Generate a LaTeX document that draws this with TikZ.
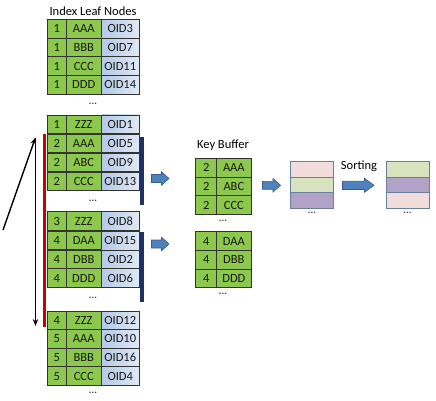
\documentclass[tikz,border=0pt]{standalone}
\usepackage{fontspec}
\setmainfont{Carlito}
\usetikzlibrary{arrows.meta}
\definecolor{cellgreen}{HTML}{8CC84B}
\definecolor{oidA}{HTML}{B4C8E6}
\definecolor{oidB}{HTML}{E0E9F5}
\definecolor{gridc}{HTML}{333333}
\definecolor{redbar}{HTML}{CC0000}
\definecolor{navybar}{HTML}{1F3064}
\definecolor{arrfill}{HTML}{4F81BD}
\definecolor{arrdraw}{HTML}{385D8A}
\definecolor{spink}{HTML}{F2DCDB}
\definecolor{sgreen}{HTML}{D7E4BD}
\definecolor{spurple}{HTML}{B3A2C7}
\definecolor{sline}{HTML}{6A7FA0}
\tikzset{
  cellbase/.style={draw=gridc, line width=0.8pt, inner sep=0pt, minimum height=18.7pt,
     font=\fontsize{12.5}{12.5}\selectfont, text=black!90},
  gcell/.style={cellbase, fill=cellgreen},
  ocell/.style={cellbase, left color=oidA, right color=oidB},
  scell/.style={draw=sline, line width=0.8pt, inner sep=0pt, minimum width=43pt, minimum height=15.5pt},
  dots/.style={font=\fontsize{10}{10}\selectfont\bfseries, inner sep=0pt, text=black!75},
  ttl/.style={font=\fontsize{12.5}{12.5}\selectfont, inner sep=0pt},
  blockarrow/.style={draw=arrdraw, fill=arrfill, line width=0.6pt, line join=miter},
  blackarrow/.style={line width=1.4pt, -{Stealth[length=7pt,width=5.5pt]}},
}
% name, top y, number, key, oid
\newcommand\LRow[5]{%
  \node[gcell, minimum width=18.5pt] (#1n) at (56.75,#2+9.35) {#3};
  \node[gcell, minimum width=35.5pt] (#1k) at (83.75,#2+9.35) {#4};
  \node[ocell, minimum width=37.5pt] (#1o) at (120.25,#2+9.35) {#5};
}
% name, top y, number, key
\newcommand\KRow[4]{%
  \node[gcell, minimum width=21pt] (#1n) at (206.2,#2+9.35) {#3};
  \node[gcell, minimum width=34.3pt] (#1k) at (233.85,#2+9.35) {#4};
}
% block arrow: name, x tail, x tip, y centre, head length, head half height, shaft half height
\newcommand\BArrow[7]{%
  \coordinate (#1) at ({(#2+#3)/2},#4);
  \draw[blockarrow] (#2,#4-#7) -- (#3-#5,#4-#7) -- (#3-#5,#4-#6) -- (#3,#4)
     -- (#3-#5,#4+#6) -- (#3-#5,#4+#7) -- (#2,#4+#7) -- cycle;
}
\begin{document}
\begin{tikzpicture}[x=1pt,y=-1pt]
\useasboundingbox (0,0) rectangle (436,401);
% title
\node[ttl] (t1) at (93,11.5) {Index Leaf Nodes};
% table 1
\LRow{a1}{19.3}{1}{AAA}{OID3}
\LRow{a2}{38.0}{1}{BBB}{OID7}
\LRow{a3}{56.7}{1}{CCC}{OID11}
\LRow{a4}{75.4}{1}{DDD}{OID14}
\node[dots] (d1) at (93,104) {...};
% table 2
\LRow{b1}{115.0}{1}{ZZZ}{OID1}
\LRow{b2}{134.0}{2}{AAA}{OID5}
\LRow{b3}{153.0}{2}{ABC}{OID9}
\LRow{b4}{172.0}{2}{CCC}{OID13}
\node[dots] (d2) at (93,201) {...};
% table 3
\LRow{c1}{211.8}{3}{ZZZ}{OID8}
\LRow{c2}{231.0}{4}{DAA}{OID15}
\LRow{c3}{249.9}{4}{DBB}{OID2}
\LRow{c4}{268.7}{4}{DDD}{OID6}
\node[dots] (d3) at (93,298) {...};
% table 4
\LRow{e1}{311.0}{4}{ZZZ}{OID12}
\LRow{e2}{329.6}{5}{AAA}{OID10}
\LRow{e3}{348.2}{5}{BBB}{OID16}
\LRow{e4}{366.7}{5}{CCC}{OID4}
\node[dots] (d4) at (93,393) {...};
% red bar and navy bars
\coordinate (rt) at (44.3,134);
\coordinate (rb) at (44.3,327);
\draw[redbar, line width=3.6pt] (rt) -- (rb);
\coordinate (n1t) at (141.8,137);
\coordinate (n1b) at (141.8,205);
\coordinate (n2t) at (141.8,232);
\coordinate (n2b) at (141.8,302);
\draw[navybar, line width=3.4pt] (n1t) -- (n1b);
\draw[navybar, line width=3.4pt] (n2t) -- (n2b);
% black arrows
\coordinate (ds) at (3,230);
\coordinate (tp) at (35.5,137.5);
\coordinate (bt) at (35.5,326);
\draw[blackarrow] (ds) -- (tp);
\draw[blackarrow] (tp) -- (bt);
% blue arrows
\BArrow{ar1}{151.5}{169}{178.5}{7.5}{6.8}{4}
\BArrow{ar2}{151.5}{169}{244}{7.5}{6.8}{4}
\BArrow{ar3}{262.5}{280.5}{185.3}{7.5}{6.8}{4}
\BArrow{ar4}{342.5}{374}{185.3}{9.5}{7}{4.2}
% key buffer
\node[ttl] (t2) at (223,145) {Key Buffer};
\KRow{k1}{158.3}{2}{AAA}
\KRow{k2}{177.0}{2}{ABC}
\KRow{k3}{195.7}{2}{CCC}
\node[dots] (d5) at (223,221) {...};
\KRow{m1}{231.7}{4}{DAA}
\KRow{m2}{250.4}{4}{DBB}
\KRow{m3}{269.1}{4}{DDD}
\node[dots] (d6) at (223,293.5) {...};
% sorting tables
\node[scell, fill=spink] (s1) at (312,169.25) {};
\node[scell, fill=sgreen] (s2) at (312,184.75) {};
\node[scell, fill=spurple] (s3) at (312,200.25) {};
\node[dots] (d7) at (312,212.5) {...};
\node[ttl] (t3) at (359,166.5) {Sorting};
\node[scell, fill=sgreen] (u1) at (407.5,169.25) {};
\node[scell, fill=spurple] (u2) at (407.5,184.75) {};
\node[scell, fill=spink] (u3) at (407.5,200.25) {};
\node[dots] (d8) at (407.5,212.5) {...};
\end{tikzpicture}
\end{document}
